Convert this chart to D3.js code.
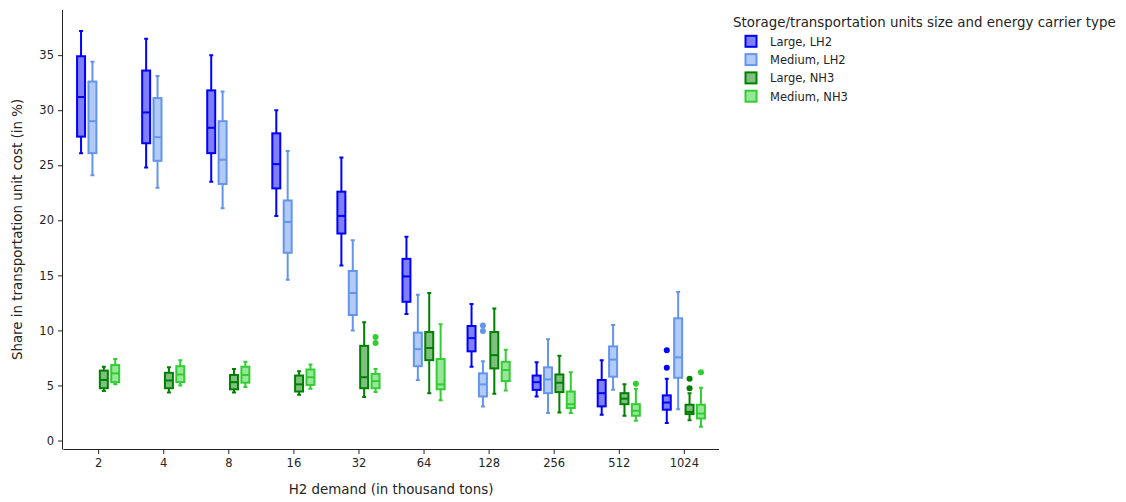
<!DOCTYPE html>
<html>
<head>
<meta charset="utf-8">
<script src="https://cdn.jsdelivr.net/npm/d3@7"></script>
<style>
  html, body { margin: 0; padding: 0; background: #fff; }
  svg text { font-family: "DejaVu Sans", Verdana, sans-serif; fill: rgb(36,36,36); }
</style>
</head>
<body>
<div id="chart"></div>
<script>
// categories on the x axis (H2 demand, thousand tons)
const demands = ['2', '4', '8', '16', '32', '64', '128', '256', '512', '1024']

// series names (legend order)
const seriesNames = ['Large, LH2', 'Medium, LH2', 'Large, NH3', 'Medium, NH3']

// box stats per demand: [lower fence, q1, median, q3, upper fence]
const largeLH2 = [
  [26.1, 27.6, 31.2, 34.9, 37.2],
  [24.8, 27.0, 29.8, 33.6, 36.5],
  [23.5, 26.1, 28.4, 31.8, 35.0],
  [20.4, 22.9, 25.1, 27.9, 30.0],
  [15.9, 18.8, 20.4, 22.6, 25.7],
  [11.5, 12.6, 14.9, 16.5, 18.5],
  [6.7, 8.1, 9.3, 10.4, 12.4],
  [4.0, 4.6, 5.3, 5.9, 7.1],
  [2.35, 3.1, 4.3, 5.5, 7.3],
  [1.6, 2.8, 3.45, 4.1, 5.6]
]
const mediumLH2 = [
  [24.1, 26.1, 29.0, 32.6, 34.4],
  [22.95, 25.4, 27.55, 31.1, 33.1],
  [21.1, 23.3, 25.5, 29.0, 31.7],
  [14.6, 17.05, 19.85, 21.8, 26.3],
  [10.0, 11.4, 13.4, 15.4, 18.2],
  [5.5, 6.75, 8.3, 9.8, 13.25],
  [3.1, 4.0, 5.1, 6.1, 7.2],
  [2.5, 4.3, 5.55, 6.65, 9.2],
  [4.6, 5.8, 7.35, 8.55, 10.5],
  [2.85, 5.7, 7.55, 11.1, 13.5]
]
const largeNH3 = [
  [4.5, 4.75, 5.5, 6.35, 6.7],
  [4.35, 4.75, 5.45, 6.15, 6.65],
  [4.35, 4.65, 5.3, 5.95, 6.5],
  [4.15, 4.45, 5.1, 5.9, 6.3],
  [3.95, 4.75, 5.75, 8.6, 10.75],
  [4.3, 7.3, 8.4, 9.85, 13.4],
  [4.25, 6.55, 7.75, 9.85, 12.0],
  [2.55, 4.4, 5.25, 6.0, 7.7],
  [2.25, 3.3, 3.8, 4.3, 5.1],
  [1.85, 2.4, 2.6, 3.25, 4.3]
]
const mediumNH3 = [
  [5.1, 5.3, 6.1, 6.85, 7.4],
  [5.0, 5.3, 6.0, 6.75, 7.3],
  [4.85, 5.25, 5.95, 6.7, 7.15],
  [4.7, 5.05, 5.75, 6.45, 6.9],
  [4.4, 4.75, 5.4, 6.05, 6.5],
  [3.65, 4.65, 5.1, 7.4, 10.55],
  [4.55, 5.4, 6.4, 7.15, 8.25],
  [2.5, 2.95, 3.3, 4.45, 6.2],
  [1.8, 2.25, 2.7, 3.3, 4.7],
  [1.25, 2.0, 2.45, 3.25, 4.8]
]

// outlier points: [demand, value]
const outliersLargeLH2 = [['1024', 8.2], ['1024', 6.6]]
const outliersMediumLH2 = [['128', 10.45], ['128', 9.95]]
const outliersLargeNH3 = [['1024', 5.6], ['1024', 4.75]]
const outliersMediumNH3 = [['32', 9.4], ['32', 8.85], ['512', 5.15], ['1024', 6.2]]

const yTicks = [0, 5, 10, 15, 20, 25, 30, 35]

const lineColors = ['#0000ff', '#6495ed', '#008000', '#32cd32']
const fillColors = ['rgba(0,0,255,0.5)', 'rgba(100,149,237,0.5)', 'rgba(0,128,0,0.5)', 'rgba(50,205,50,0.5)']

const series = [largeLH2, mediumLH2, largeNH3, mediumNH3].map((stats, i) => ({
  name: seriesNames[i],
  stats,
  outliers: [outliersLargeLH2, outliersMediumLH2, outliersLargeNH3, outliersMediumNH3][i],
  line: lineColors[i],
  fill: fillColors[i]
}))

const W = 1126
const H = 502
const margin = { top: 10, right: 407, bottom: 53, left: 63 }
const width = W - margin.left - margin.right
const height = H - margin.top - margin.bottom

const tickFont = 11.5
const titleFont = 13.4

const svg = d3.select('#chart').append('svg')
  .attr('width', W)
  .attr('height', H)

const g = svg.append('g')
  .attr('transform', 'translate(' + margin.left + ',' + margin.top + ')')

const x = d3.scalePoint()
  .domain(demands)
  .range([0, width])
  .padding(0.54)

const step = x.step()

const sub = d3.scaleBand()
  .domain(seriesNames)
  .range([-step * 0.35, step * 0.35])
  .paddingInner(0.3)
  .paddingOuter(0.15)

const y = d3.scaleLinear()
  .domain([-0.77, 39.1])
  .range([height, 0])

// axes
const xAxis = g.append('g')
  .attr('transform', 'translate(0,' + height + ')')
  .call(d3.axisBottom(x).tickSize(5).tickPadding(5).tickSizeOuter(0))
const yAxis = g.append('g')
  .call(d3.axisLeft(y).tickValues(yTicks).tickSize(5).tickPadding(4).tickSizeOuter(0))

;[xAxis, yAxis].forEach(a => {
  a.select('.domain').attr('stroke', 'rgb(36,36,36)').attr('stroke-width', 1)
  a.selectAll('.tick line').attr('stroke', 'rgb(36,36,36)')
  a.selectAll('.tick text').attr('font-size', tickFont).attr('font-family', null)
})
// make axis lines meet at the corner
xAxis.select('.domain').attr('d', 'M0.5,0.5H' + width)
yAxis.select('.domain').attr('d', 'M-0.5,0V' + (height + 0.5))

// boxes
const bw = sub.bandwidth()
const cap = bw * 0.5

series.forEach(s => {
  const sg = g.append('g').attr('class', 'series')
  const cx = (d, i) => x(demands[i]) + sub(s.name) + bw / 2

  const boxes = sg.selectAll('.box')
    .data(s.stats)
    .enter()
    .append('g')
    .attr('class', 'box')
    .attr('transform', (d, i) => 'translate(' + cx(d, i) + ',0)')

  boxes.append('path')
    .attr('d', d =>
      'M0,' + y(d[0]) + 'V' + y(d[1]) +
      'M0,' + y(d[3]) + 'V' + y(d[4]) +
      'M' + (-cap / 2) + ',' + y(d[0]) + 'H' + (cap / 2) +
      'M' + (-cap / 2) + ',' + y(d[4]) + 'H' + (cap / 2))
    .attr('stroke', s.line)
    .attr('stroke-width', 2)
    .attr('fill', 'none')

  boxes.append('rect')
    .attr('x', -bw / 2)
    .attr('y', d => y(d[3]))
    .attr('width', bw)
    .attr('height', d => y(d[1]) - y(d[3]))
    .attr('fill', s.fill)
    .attr('stroke', s.line)
    .attr('stroke-width', 2)

  boxes.append('line')
    .attr('x1', -bw / 2)
    .attr('x2', bw / 2)
    .attr('y1', d => y(d[2]))
    .attr('y2', d => y(d[2]))
    .attr('stroke', s.line)
    .attr('stroke-width', 2)

  sg.selectAll('.outlier')
    .data(s.outliers)
    .enter()
    .append('circle')
    .attr('class', 'outlier')
    .attr('cx', d => x(d[0]) + sub(s.name) + bw / 2)
    .attr('cy', d => y(d[1]))
    .attr('r', 3)
    .attr('fill', s.line)
})

// axis titles
svg.append('text')
  .attr('x', margin.left + width / 2)
  .attr('y', 494)
  .attr('text-anchor', 'middle')
  .attr('font-size', titleFont)
  .text('H2 demand (in thousand tons)')

svg.append('text')
  .attr('transform', 'translate(22,' + (margin.top + height / 2) + ') rotate(-90)')
  .attr('text-anchor', 'middle')
  .attr('font-size', titleFont)
  .text('Share in transportation unit cost (in %)')

// legend
const legend = svg.append('g').attr('transform', 'translate(733,0)')
legend.append('text')
  .attr('x', 0)
  .attr('y', 27)
  .attr('font-size', titleFont)
  .text('Storage/transportation units size and energy carrier type')

const item = legend.selectAll('.item')
  .data(series)
  .enter()
  .append('g')
  .attr('class', 'item')
  .attr('transform', (d, i) => 'translate(0,' + (41.3 + i * 18.3) + ')')

item.append('rect')
  .attr('x', 12.5)
  .attr('y', -5.5)
  .attr('width', 11)
  .attr('height', 11)
  .attr('fill', d => d.fill)
  .attr('stroke', d => d.line)
  .attr('stroke-width', 2)

item.append('text')
  .attr('x', 37)
  .attr('y', 4.3)
  .attr('font-size', tickFont)
  .text(d => d.name)
</script>
</body>
</html>
